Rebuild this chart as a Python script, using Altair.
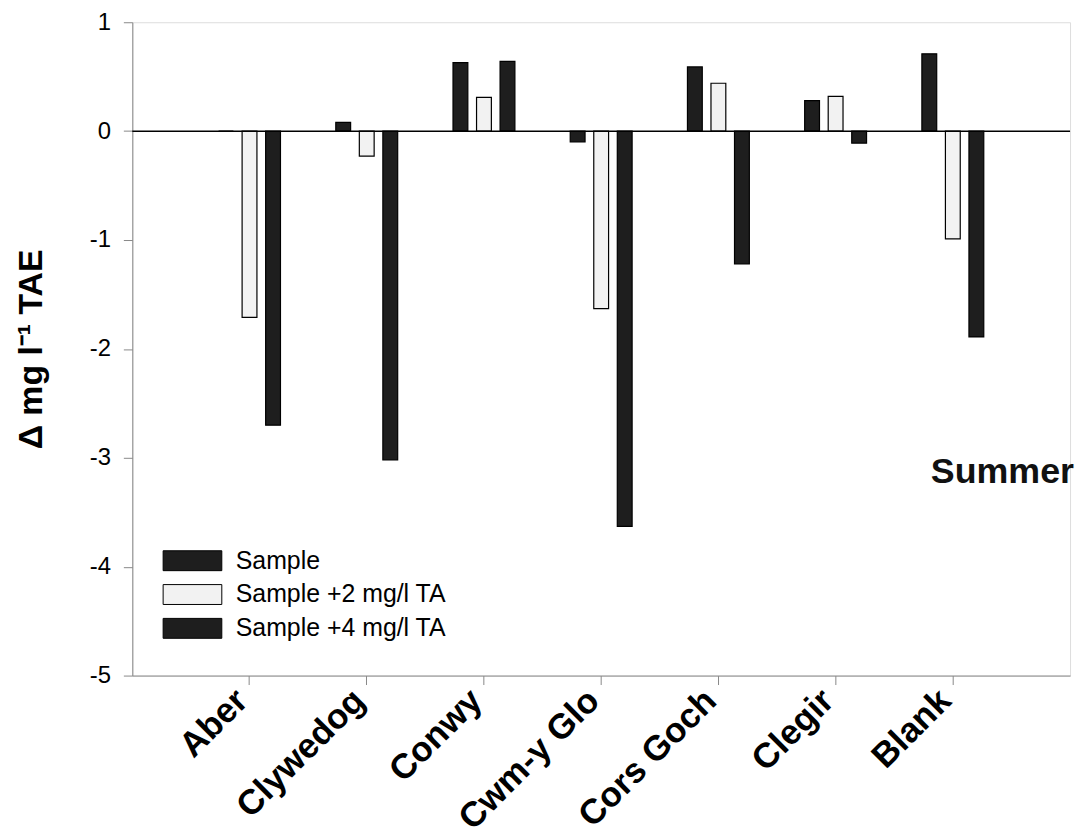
import altair as alt
import pandas as pd

sites = ["Aber", "Clywedog", "Conwy", "Cwm-y Glo", "Cors Goch", "Clegir", "Blank"]
series = ["Sample", "Sample +2 mg/l TA", "Sample +4 mg/l TA"]
sample = [0.0, 0.08, 0.63, -0.10, 0.59, 0.28, 0.71]
plus2 = [-1.71, -0.23, 0.31, -1.63, 0.44, 0.32, -0.99]
plus4 = [-2.70, -3.02, 0.64, -3.63, -1.22, -0.11, -1.89]
y_ticks = [-5, -4, -3, -2, -1, 0, 1]
fills = ["#1e1e1e", "#f2f2f2", "#1e1e1e"]

rows = []
for vals, s in zip([sample, plus2, plus4], series):
    for site, v in zip(sites, vals):
        rows.append({"site": site, "series": s, "value": v})
df = pd.DataFrame(rows)

FONT = "Liberation Sans"
W, H = 943, 657

bars = alt.Chart(df).mark_bar(stroke="black", strokeWidth=1.2).encode(
    x=alt.X("site:N", sort=sites, title=None,
            scale=alt.Scale(paddingInner=0.472, paddingOuter=0.736),
            axis=alt.Axis(labelAngle=-45, labelFontSize=35, labelFontWeight="bold",
                          labelAlign="right", labelBaseline="alphabetic", labelLimit=400,
                          labelPadding=18, tickSize=9, grid=False)),
    xOffset=alt.XOffset("series:N", sort=series,
                        scale=alt.Scale(paddingInner=0.37, paddingOuter=0)),
    y=alt.Y("value:Q", title="Δ mg l⁻¹ TAE",
            scale=alt.Scale(domain=[-5, 1], nice=False, zero=False),
            axis=alt.Axis(values=y_ticks, labelExpr="'' + datum.value",
                          labelFontSize=24, labelPadding=13, grid=False,
                          tickSize=9, titleFontSize=34, titleFontWeight="bold",
                          titleX=-91, titleBaseline="alphabetic")),
    fill=alt.Fill("series:N", sort=series,
                  scale=alt.Scale(domain=series, range=fills),
                  legend=alt.Legend(title=None, orient="none", legendX=48, legendY=529,
                                    symbolType="M-2.95,-1L2.95,-1L2.95,1L-2.95,1Z",
                                    symbolSize=400, symbolStrokeColor="black",
                                    symbolStrokeWidth=1, symbolOpacity=1,
                                    labelFont=FONT, labelFontSize=25, labelOffset=31,
                                    labelLimit=500, rowPadding=8, padding=0)),
)

zero = alt.Chart(pd.DataFrame({"v": [0]})).mark_rule(color="black", strokeWidth=1.5).encode(
    y="v:Q"
)

label = alt.Chart(pd.DataFrame({"t": ["Summer"], "v": [-3.13]})).mark_text(
    align="right", baseline="middle", fontSize=36, fontWeight="bold", font=FONT, color="#111"
).encode(y="v:Q", x=alt.value(947), text="t:N")

chart = alt.layer(bars, zero, label).properties(
    width=W, height=H,
    autosize=alt.AutoSizeParams(type="none"),
    padding={"left": 125, "top": 12, "right": 8, "bottom": 160},
).configure_view(stroke=None).configure_axis(
    grid=False, domainColor="black", domainWidth=1.5, tickColor="black", tickWidth=1.5,
    labelColor="black", titleColor="black", labelFont=FONT, titleFont=FONT,
).configure(background="white")

chart.save("out.html", embed_options={"renderer": "svg", "actions": False})
